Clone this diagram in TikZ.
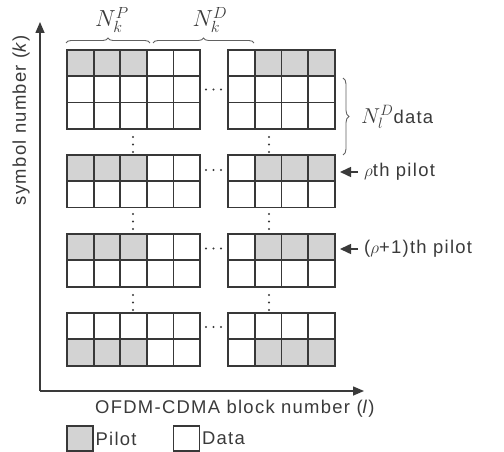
\documentclass[tikz,border=0pt]{standalone}
\usepackage{fontspec}
\setmainfont{Liberation Sans}[LetterSpace=7]
\usetikzlibrary{decorations.pathreplacing,arrows.meta}

\definecolor{gridline}{HTML}{383838}
\definecolor{pilotfill}{HTML}{D3D3D3}
\definecolor{inkgray}{HTML}{3A3A3A}

% outlined block of cells: x0, y0, columns, rows, cell width, cell height
\newcommand\cellblock[6]{%
  \foreach \c in {1,...,\numexpr#3-1\relax}
    \draw[gridline,line width=1.8bp] ({#1+\c*#5},#2) -- ({#1+\c*#5},{#2+#4*#6});
  \ifnum#4>1
    \foreach \r in {1,...,\numexpr#4-1\relax}
      \draw[gridline,line width=1.8bp] (#1,{#2+\r*#6}) -- ({#1+#3*#5},{#2+\r*#6});
  \fi
  \draw[gridline,line width=1.8bp] (#1,#2) rectangle ({#1+#3*#5},{#2+#4*#6});
}

\begin{document}
\begin{tikzpicture}[x=1bp,y=-1bp,
  every node/.style={text=inkgray,font=\fontsize{18.5}{20}\selectfont},
  axis/.style={draw=inkgray,line width=1.5bp,-{Triangle[length=11bp,width=9bp]}},
  pointer/.style={draw=inkgray,line width=1.5bp,-{Triangle[length=11bp,width=10bp]}},
  bracemark/.style={draw=inkgray!80,line width=0.9bp,decorate,decoration={brace,amplitude=5bp}},
  dot/.style={fill=inkgray},
  legendbox/.style={draw=gridline,line width=1.8bp,minimum width=26bp,minimum height=25bp,inner sep=0pt}]

\useasboundingbox (0,0) rectangle (504,452);

% pilot cells (shaded) in the pilot rows
\foreach \y in {50,155,234,339.3} {
  \fill[pilotfill] (67,\y) rectangle +(79.8,26.3);
  \fill[pilotfill] (254.75,\y) rectangle +(80.25,26.3);
}

% left and right groups of sub-carriers
\foreach \y/\n in {50/3,155/2,234/2,313/2} {
  \cellblock{67}{\y}{5}{\n}{26.6}{26.3}
  \cellblock{228}{\y}{4}{\n}{26.75}{26.3}
}

% horizontal ellipses between the groups
\foreach \y in {89.5,170,248.5,327} {
  \foreach \x in {206,213.5,221} \fill[dot] (\x,\y) circle (1.1bp);
}

% vertical ellipses between the blocks
\foreach \y in {137,144.5,152, 214,221.5,229, 295,302.5,310} {
  \fill[dot] (133,\y) circle (1.1bp);
  \fill[dot] (269,\y) circle (1.1bp);
}

% axes
\coordinate (origin) at (40,391);
\coordinate (ytip) at (40,22);
\coordinate (xtip) at (364,391);
\draw[axis] (origin) -- (ytip);
\draw[axis] (origin) -- (xtip);
\node[rotate=90] (ylab) at (21,120) {symbol number (\textit{k})};
\node[anchor=west,inner sep=0pt] (xlab) at (95,409) {OFDM-CDMA block number (\textit{l})};

% braces on top
\coordinate (bpa) at (66,43);
\coordinate (bpb) at (150,43);
\coordinate (bda) at (153,43);
\coordinate (bdb) at (254,43);
\draw[bracemark] (bpa) -- (bpb);
\draw[bracemark] (bda) -- (bdb);
\node (np) at (112,20) {\scalebox{1.35}{$N_k^P$}};
\node (nd) at (210,20) {\scalebox{1.35}{$N_k^D$}};

% data brace on the right
\coordinate (bra) at (343,78);
\coordinate (brb) at (343,155);
\draw[bracemark,decoration={brace,amplitude=6bp}] (bra) -- (brb);
\node[anchor=west,inner sep=0pt] (ndata) at (361,117) {\scalebox{1.25}{$N_l^D$}data};

% pilot markers
\node[anchor=west,inner sep=0pt] (pth) at (364,172) {$\rho$th pilot};
\node[anchor=west,inner sep=0pt] (p1th) at (364,249) {($\rho$+1)th pilot};
\coordinate (pa) at (358,172);
\coordinate (pb) at (358,249);
\draw[pointer] (pa) -- (340,172);
\draw[pointer] (pb) -- (340,249);

% legend
\node[legendbox,fill=pilotfill] (lp) at (80,438.5) {};
\node[anchor=west,inner sep=1.5pt] (lpt) at (lp.east) {Pilot};
\node[legendbox] (ld) at (186.5,438.5) {};
\node[anchor=west,inner sep=1.5pt] (ldt) at (ld.east) {Data};

\end{tikzpicture}
\end{document}
